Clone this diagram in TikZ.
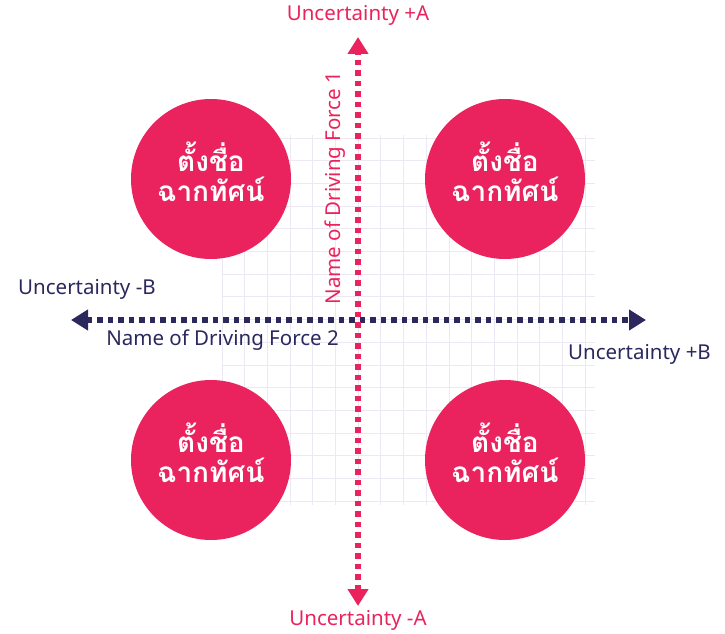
\documentclass[tikz,border=0pt]{standalone}
\usepackage{fontspec}
\setmainfont{Noto Sans}
\newfontfamily\thaifont[Script=Thai]{Loma}
\usetikzlibrary{arrows.meta}

\definecolor{scenpink}{RGB}{234,35,94}
\definecolor{scennavy}{RGB}{43,40,94}
\definecolor{gridlav}{RGB}{236,233,244}

\begin{document}
\begin{tikzpicture}[x=1pt,y=-1pt,
    gridline/.style={gridlav,line width=1pt},
    axisA/.style={scenpink,line width=5.5pt,dash pattern=on 5.5pt off 5pt,
        {Triangle[width=20pt,length=17pt]}-{Triangle[width=20pt,length=17pt]}},
    axisB/.style={scennavy,line width=5.5pt,dash pattern=on 5.5pt off 5pt,
        {Triangle[width=20pt,length=17pt]}-{Triangle[width=20pt,length=17pt]}},
    scen/.style={circle,fill=scenpink,text=white,minimum size=160pt,align=center,
        text depth=14pt,font=\thaifont\bfseries\fontsize{28}{30}\selectfont},
    lblA/.style={text=scenpink,font=\fontsize{20.5}{24}\selectfont,inner sep=0pt},
    lblB/.style={text=scennavy,font=\fontsize{20.5}{24}\selectfont,inner sep=0pt}]
    \useasboundingbox (0,0) rectangle (725,634);

    % faint grid behind the axes
    \foreach \gx in {0,...,16}
        \draw[gridline] ({222+\gx*22.7},135) -- ({222+\gx*22.7},505);
    \foreach \gy in {0,...,16}
        \draw[gridline] (222,{138+\gy*22.7}) -- (595,{138+\gy*22.7});

    % scenario circles
    \node[scen] (nw) at (211,179) {ตั้งชื่อ\\ฉากทัศน์};
    \node[scen] (ne) at (505,179) {ตั้งชื่อ\\ฉากทัศน์};
    \node[scen] (sw) at (211,460) {ตั้งชื่อ\\ฉากทัศน์};
    \node[scen] (se) at (505,460) {ตั้งชื่อ\\ฉากทัศน์};

    % axes
    \coordinate (Bleft) at (71,320);
    \coordinate (Bright) at (646,320);
    \coordinate (Atop) at (358,37);
    \coordinate (Abot) at (358,606);
    \draw[axisB] (Bleft)--(Bright);
    \draw[axisA] (Abot)--(Atop);

    \node[lblA] (plusA) at (358,15) {Uncertainty +A};
    \node[lblA] (minusA) at (358,620) {Uncertainty -A};
    \node[lblB,anchor=west] (minusB) at (18,289) {Uncertainty -B};
    \node[lblB,anchor=east] (plusB) at (711,354) {Uncertainty +B};
    \node[lblB,anchor=east] (force2) at (339,340) {Name of Driving Force 2};
    \node[lblA,rotate=90] (force1) at (335,188) {Name of Driving Force 1};
\end{tikzpicture}
\end{document}
